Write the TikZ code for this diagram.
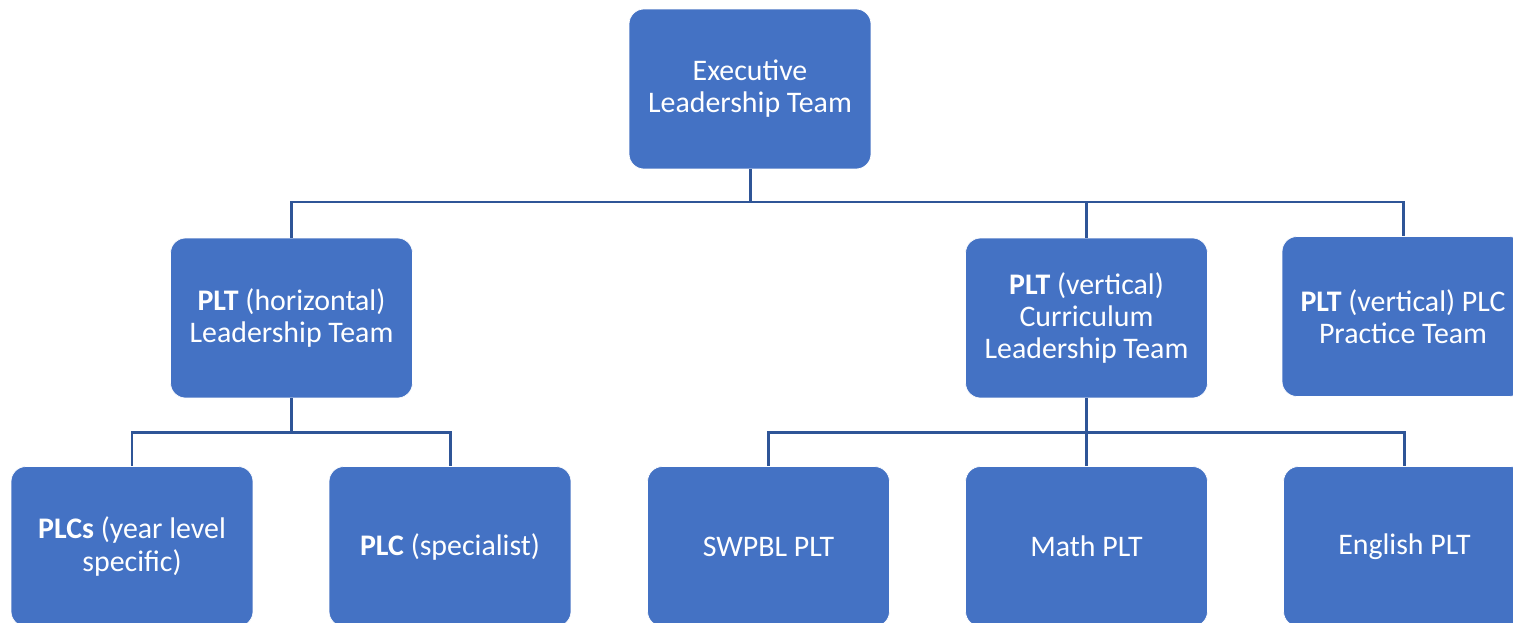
\documentclass[tikz,border=0pt]{standalone}
\usepackage{fontspec}
\setmainfont{Carlito}
\definecolor{boxblue}{HTML}{4472C4}
\definecolor{linkblue}{HTML}{2F5597}
\begin{document}
\begin{tikzpicture}[x=0.02cm,y=-0.02cm,
  orgbox/.style={rectangle, rounded corners=0.3cm, fill=boxblue, draw=white, line width=0.4pt,
    minimum width=4.84cm, minimum height=3.2cm, inner sep=0pt, align=center, text=white,
    font=\fontsize{17}{18.3}\selectfont},
  link/.style={draw=linkblue, line width=1.7pt}]
\useasboundingbox (0,0) rectangle (1513,622);
\clip (0,0) rectangle (1513,622);
\node[orgbox] (exec) at (750,89) {Executive\\Leadership Team};
\node[orgbox] (plth) at (291.5,318) {\textbf{PLT} (horizontal)\\Leadership Team};
\node[orgbox] (pltv) at (1086.5,318) {\textbf{PLT} (vertical)\\Curriculum\\Leadership Team};
\node[orgbox] (pltp) at (1403,316.5) {\textbf{PLT} (vertical) PLC\\Practice Team};
\node[orgbox] (plcs) at (132,546.5) {\textbf{PLCs} (year level\\specific)};
\node[orgbox] (plcsp) at (450,546.5) {\textbf{PLC} (specialist)};
\node[orgbox] (swpbl) at (768.5,546.5) {SWPBL PLT};
\node[orgbox] (math) at (1086.5,546.5) {Math PLT};
\node[orgbox] (eng) at (1404.5,546.5) {English PLT};
\coordinate (bus1) at (750,202);
\coordinate (bus2) at (291.5,432);
\coordinate (bus3) at (1086.5,432);
\draw[link] (exec.south) -- (bus1);
\draw[link] (bus1) -| (plth.north);
\draw[link] (bus1) -| (pltv.north);
\draw[link] (bus1) -| (pltp.north);
\draw[link] (plth.south) -- (bus2);
\draw[link] (bus2) -| (plcs.north);
\draw[link] (bus2) -| (plcsp.north);
\draw[link] (pltv.south) -- (bus3);
\draw[link] (bus3) -| (swpbl.north);
\draw[link] (bus3) -| (math.north);
\draw[link] (bus3) -| (eng.north);
\end{tikzpicture}
\end{document}
